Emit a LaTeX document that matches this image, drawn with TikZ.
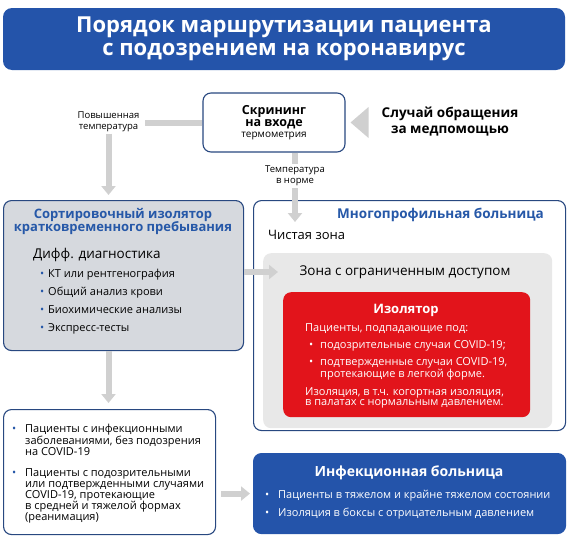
\documentclass[tikz,border=0pt]{standalone}
\usepackage{fontspec}
\setmainfont{Open Sans}
\usetikzlibrary{arrows.meta, positioning, calc}
\definecolor{titleblue}{RGB}{36,84,170}
\definecolor{frameblue}{RGB}{40,72,128}
\definecolor{headblue}{RGB}{38,88,168}
\definecolor{sortgray}{RGB}{214,217,222}
\definecolor{zonegray}{RGB}{232,232,232}
\definecolor{isored}{RGB}{226,20,27}
\definecolor{arrowgray}{RGB}{208,208,208}
\newcommand{\fs}[2]{\fontsize{#1}{#2}\selectfont}
\newcommand{\bdot}[1]{\makebox[#1][l]{\textbullet}}

\begin{document}
\begin{tikzpicture}[x=1pt, y=-1pt,
  panel/.style={draw=frameblue, line width=1.1pt, rounded corners=8pt, inner sep=0pt},
  flow/.style={draw=arrowgray, line width=6pt, -{Triangle[length=9pt, width=14pt]}},
  bare/.style={draw=arrowgray, line width=6pt},
  txt/.style={inner sep=0pt, align=left, anchor=north west},
  note/.style={inner sep=0pt, align=center, font=\fs{9.5}{11}}
]
  \useasboundingbox (0,0) rectangle (572,538);

  % title
  \node[fill=titleblue, rounded corners=9pt, minimum width=562pt, minimum height=62pt,
        text=white, align=center, font=\bfseries\fs{22}{23}] (title) at (284,39)
        {Порядок маршрутизации пациента\\с подозрением на коронавирус};

  % entry
  \node[panel, fill=white, minimum width=142pt, minimum height=59pt, align=center,
        font=\bfseries\fs{12.5}{12}] (screen) at (274,122.5)
        {Скрининг\\на входе\\[-1pt]{\mdseries\fs{10}{11}термометрия}};
  \node[align=center, inner sep=0pt, font=\bfseries\fs{13.5}{16}] (case) at (450,122)
        {Случай обращения\\за медпомощью};
  \fill[arrowgray] ($(screen.east)+(5,0)$) -- ++(18,-15.5) -- ++(0,31) -- cycle;
  \node[note] (hot) at (108.5,121.5) {Повышенная\\температура};
  \node[note] (norm) at (295,176) {Температура\\в норме};

  % boxes
  \node[panel, fill=sortgray, anchor=north west, minimum width=240pt, minimum height=150pt] (sort) at (3,200) {};
  \node[panel, fill=white, anchor=north west, minimum width=312pt, minimum height=230pt] (hosp) at (253,200) {};
  \node[fill=zonegray, rounded corners=8pt, anchor=north west, minimum width=289pt, minimum height=175pt] (zone) at (263,253) {};
  \node[fill=isored, rounded corners=8pt, anchor=north west, minimum width=247pt, minimum height=125pt] (iso) at (283,292) {};
  \node[panel, fill=white, anchor=north west, minimum width=212pt, minimum height=125pt] (low) at (3,409) {};
  \node[panel, draw=titleblue, fill=titleblue, anchor=north west, minimum width=312pt, minimum height=80pt] (inf) at (253,453) {};

  % sorting isolator
  \node[align=center, inner sep=0pt, text=headblue, font=\bfseries\fs{13}{13.5}] (sorthead) at (123,221.5)
        {Сортировочный изолятор\\кратковременного пребывания};
  \node[txt, anchor=west, font=\fs{13.5}{15}] (diag) at (33,255) {Дифф. диагностика};
  \node[txt, font=\fs{11}{18}] (tests) at (40,269)
        {\textcolor{headblue}{\bdot{8pt}}КТ или рентгенография\\
         \textcolor{headblue}{\bdot{8pt}}Общий анализ крови\\
         \textcolor{headblue}{\bdot{8pt}}Биохимические анализы\\
         \textcolor{headblue}{\bdot{8pt}}Экспресс-тесты};

  % multi-profile hospital
  \node[txt, anchor=east, text=headblue, font=\bfseries\fs{13.5}{15}] (hosphead) at (544,215) {Многопрофильная больница};
  \node[txt, anchor=west, font=\fs{13}{15}] (clean) at (268,235) {Чистая зона};
  \node[inner sep=0pt, font=\fs{13.5}{15}] (zonelbl) at (405,272) {Зона с ограниченным доступом};
  \node[inner sep=0pt, text=white, font=\bfseries\fs{13}{15}] (isohead) at (406,310) {Изолятор};
  \node[txt, text=white, font=\fs{11}{10}] (isotext) at (305,323)
        {Пациенты, подпадающие под:\\[6pt]
         \hspace*{4pt}\bdot{11pt}подозрительные случаи COVID-19;\\[6pt]
         \hspace*{4pt}\bdot{11pt}подтвержденные случаи COVID-19,\\
         \hspace*{15pt}протекающие в легкой форме.\\[6pt]
         Изоляция, в т.ч. когортная изоляция,\\
         в палатах с нормальным давлением.};

  % remaining patients
  \node[txt, font=\fs{11}{11}] (lowtext) at (12,424)
        {\textcolor{headblue}{\bdot{13pt}}Пациенты с инфекционными\\
         \hspace*{13pt}заболеваниями, без подозрения\\
         \hspace*{13pt}на COVID-19\\[10pt]
         \textcolor{headblue}{\bdot{13pt}}Пациенты с подозрительными\\
         \hspace*{13pt}или подтвержденными случаями\\
         \hspace*{13pt}COVID-19, протекающие\\
         \hspace*{13pt}в средней и тяжелой формах\\
         \hspace*{13pt}(реанимация)};

  % infectious hospital
  \node[inner sep=0pt, text=white, font=\bfseries\fs{14}{16}] (infhead) at (409,473) {Инфекционная больница};
  \node[txt, text=white, font=\fs{11}{18}] (inftext) at (265,490)
        {\bdot{13pt}Пациенты в тяжелом и крайне тяжелом состоянии\\
         \bdot{13pt}Изоляция в боксы с отрицательным давлением};

  % routes
  \draw[bare, shorten >=5pt] (screen.west) -- (screen.west -| hot.east);
  \draw[flow, shorten <=2pt, shorten >=5pt] (hot.south) -- (hot |- sort.north);
  \draw[bare, shorten >=2pt] (norm |- screen.south) -- (norm.north);
  \draw[flow, shorten <=2pt] (norm.south) -- ($(norm |- hosp.north)+(0,22)$);
  \draw[flow] (sort.east |- zonelbl) -- ($(zone.west |- zonelbl)+(15,0)$);
  \draw[flow, shorten >=6pt] (hot |- sort.south) -- (hot |- low.north);
  \draw[flow, shorten <=5pt, shorten >=3pt] (low.east |- inf.west) -- (inf.west);
\end{tikzpicture}
\end{document}
